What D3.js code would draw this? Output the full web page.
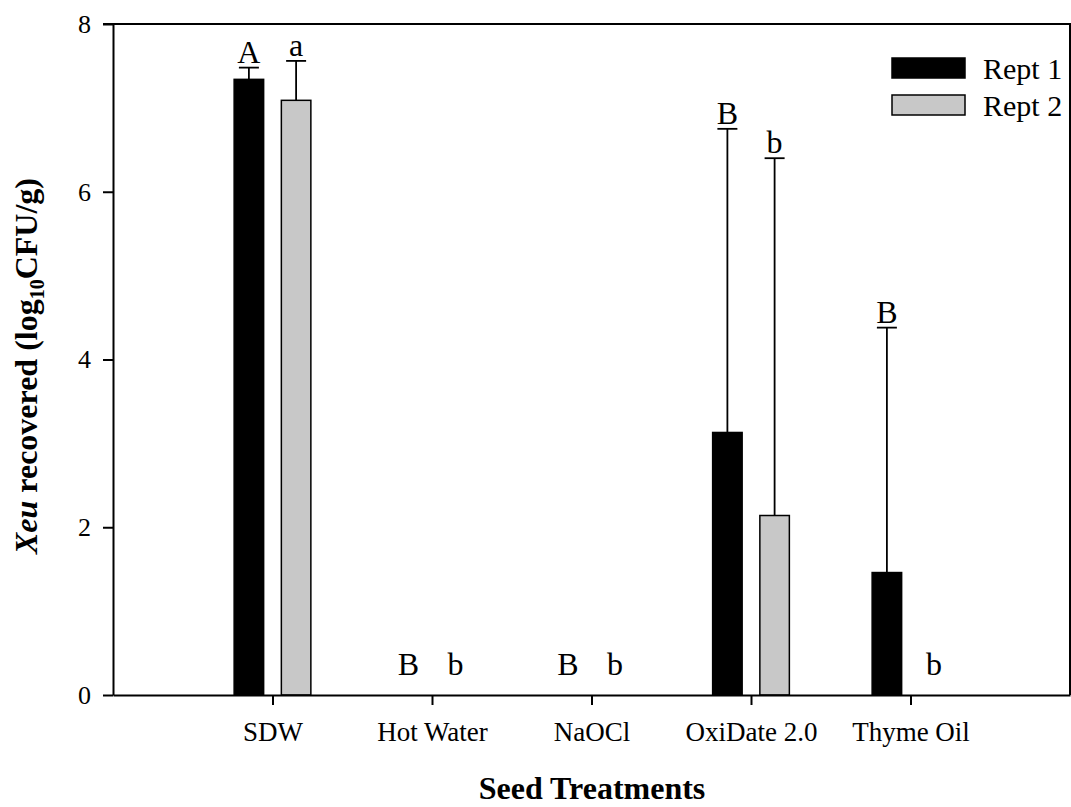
<!DOCTYPE html>
<html>
<head>
<meta charset="utf-8">
<script src="https://cdn.jsdelivr.net/npm/d3@7"></script>
<style>
  html, body { margin: 0; padding: 0; background: #fff; }
  svg { display: block; font-family: "Liberation Serif", "Times New Roman", serif; }
</style>
</head>
<body>
<svg id="chart" width="1071" height="807"></svg>
<script>
// ---- data ----
const categories = ["SDW", "Hot Water", "NaOCl", "OxiDate 2.0", "Thyme Oil"];
const rept1 = [7.34, 0, 0, 3.13, 1.46];
const rept1Err = [0.14, 0, 0, 3.62, 2.92];
const rept2 = [7.09, 0, 0, 2.14, 0];
const rept2Err = [0.47, 0, 0, 4.26, 0];
const letters1 = ["A", "B", "B", "B", "B"];
const letters2 = ["a", "b", "b", "b", "b"];
const yTicks = [0, 2, 4, 6, 8];
const seriesNames = ["Rept 1", "Rept 2"];

(function () {
// ---- layout ----
const svg = d3.select("#chart");
const pLeft = 113, pRight = 1070, pTop = 24, pBottom = 695;
const x = d3.scaleLinear().domain([0, 6]).range([pLeft, pRight]);
const y = d3.scaleLinear().domain([0, 8]).range([pBottom, pTop]);
const barW = 0.185;   // in category units
const offset = 0.148; // centre offset in category units

const series = [
  { name: seriesNames[0], vals: rept1, err: rept1Err, letters: letters1, fill: "#000", stroke: "#000", dir: -1 },
  { name: seriesNames[1], vals: rept2, err: rept2Err, letters: letters2, fill: "#c8c8c8", stroke: "#000", dir: 1 }
];

// bars
series.forEach(s => {
  const g = svg.append("g");
  s.vals.forEach((v, i) => {
    const cx = i + 1 + s.dir * offset;
    if (v > 0) {
      g.append("rect")
        .attr("x", x(cx - barW / 2))
        .attr("y", y(v))
        .attr("width", x(cx + barW / 2) - x(cx - barW / 2))
        .attr("height", y(0) - y(v))
        .attr("fill", s.fill)
        .attr("stroke", s.stroke)
        .attr("stroke-width", 1.5);
    }
    if (s.err[i] > 0) {
      const topV = v + s.err[i];
      g.append("line")
        .attr("x1", x(cx)).attr("x2", x(cx))
        .attr("y1", y(v)).attr("y2", y(topV))
        .attr("stroke", "#000").attr("stroke-width", 1.8);
      g.append("line")
        .attr("x1", x(cx) - 10).attr("x2", x(cx) + 10)
        .attr("y1", y(topV)).attr("y2", y(topV))
        .attr("stroke", "#000").attr("stroke-width", 1.8);
    }
    // letters
    if (s.letters[i]) {
      const ly = (v + s.err[i]) > 0 ? y(v + s.err[i]) - 5 : y(0) - 20;
      g.append("text")
        .attr("x", x(cx))
        .attr("y", ly)
        .attr("text-anchor", "middle")
        .attr("font-size", 32)
        .attr("fill", "#000")
        .text(s.letters[i]);
    }
  });
});

// axes
const yAxis = d3.axisLeft(y).tickValues(yTicks).tickSize(10).tickSizeOuter(0).tickPadding(12);
const yG = svg.append("g").attr("transform", `translate(${pLeft},0)`).call(yAxis);
yG.selectAll("text").attr("font-size", 26).attr("font-family", "Liberation Serif").attr("fill", "#000");
yG.selectAll("line,path").attr("stroke", "#000").attr("stroke-width", 2);

const xAxis = d3.axisBottom(x).tickValues([1, 2, 3, 4, 5])
  .tickFormat(d => categories[d - 1]).tickSize(10).tickSizeOuter(0).tickPadding(17);
const xG = svg.append("g").attr("transform", `translate(0,${pBottom})`).call(xAxis);
xG.selectAll("text").attr("font-size", 27).attr("font-family", "Liberation Serif").attr("fill", "#000");
xG.selectAll("line,path").attr("stroke", "#000").attr("stroke-width", 2);

// frame top & right
svg.append("path")
  .attr("d", `M${pLeft - 10},${pTop}H${pRight}V${pBottom}`)
  .attr("fill", "none").attr("stroke", "#000").attr("stroke-width", 2);

// axis titles
svg.append("text")
  .attr("x", 592)
  .attr("y", 799)
  .attr("text-anchor", "middle")
  .attr("font-size", 32)
  .attr("font-weight", "bold")
  .text("Seed Treatments");

const yt = svg.append("text")
  .attr("transform", "translate(37,366) rotate(-90)")
  .attr("text-anchor", "middle")
  .attr("font-size", 32)
  .attr("font-weight", "bold");
yt.append("tspan").attr("font-style", "italic").text("Xeu");
yt.append("tspan").text(" recovered (log");
yt.append("tspan").attr("font-size", 20).attr("dy", 7).text("10");
yt.append("tspan").attr("dy", -7).text("CFU/g)");

// legend
const leg = svg.append("g");
series.forEach((s, i) => {
  leg.append("rect")
    .attr("x", 892).attr("y", 58 + i * 37)
    .attr("width", 73).attr("height", 20)
    .attr("fill", s.fill).attr("stroke", "#000").attr("stroke-width", 1.5);
  leg.append("text")
    .attr("x", 983).attr("y", 79 + i * 37)
    .attr("font-size", 30)
    .text(s.name);
});
})();
</script>
</body>
</html>
